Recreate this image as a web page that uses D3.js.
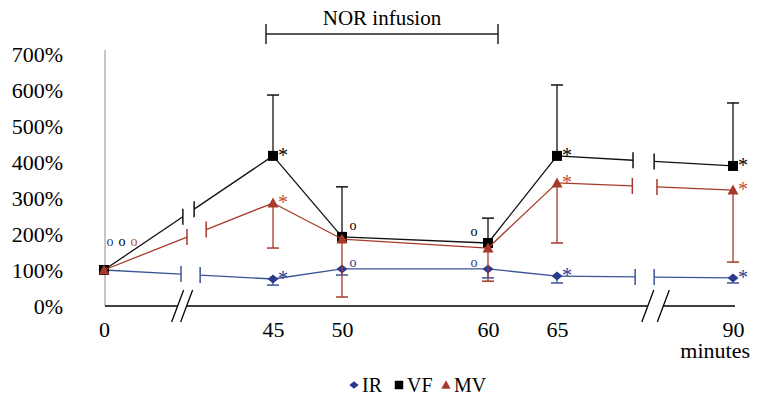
<!DOCTYPE html>
<html><head><meta charset="utf-8">
<script src="https://cdn.jsdelivr.net/npm/d3@7"></script>
<style>body{margin:0;background:#fff} svg{display:block} svg text{font-family:'Liberation Serif' !important}</style>
</head><body><svg id="c" width="760" height="404" font-family="Liberation Serif"></svg>
<script>
// ---- data ----
const minutes = [0, 45, 50, 60, 65, 90];
const xTickLabels = ["0", "45", "50", "60", "65", "90"];
const yTickValues = [0, 100, 200, 300, 400, 500, 600, 700];
const irMean   = [100, 75, 103, 103, 83, 78];
const irErrLow = [100, 58, 86, 78, 64, 64];
const vfMean    = [100, 417, 192, 175, 417, 389];
const vfErrHigh = [100, 586, 331, 244, 614, 564];
const mvMean   = [100, 286, 186, 161, 342, 322];
const mvErrLow = [100, 161, 25, 69, 175, 122];
const seriesNames = ["IR", "VF", "MV"];
const starMinutes = [45, 65, 90];
const circleMinutes = [50, 60];
const infusionRange = [45, 60];
// line breaks (in minutes) per series: [left gap, right gap]
const irGaps = [[20.5, 25.6], [76.1, 78.8]];
const vfGaps = [[21.0, 24.0], [75.8, 78.8]];
const mvGaps = [[22.1, 27.2], [75.7, 79.2]];
const axisGaps = [[19.6, 22.0], [77.9, 80.1]];

const FONT = "Liberation Serif";

// ---- setup ----
const svg = d3.select("#c");
const x = d3.scaleLinear().domain(minutes).range([104, 273, 342, 488, 557, 733]);
const y = d3.scaleLinear().domain([0, 700]).range([306, 54]);

const colors = {IR: "#2c3a8e", VF: "#000000", MV: "#a63a2a"};
const lineColors = {IR: "#3a5596", VF: "#111111", MV: "#a63a2a"};

function txt(sel, size) {
  return sel.attr("font-family", FONT).attr("font-size", size)
    .style("font-family", "'Liberation Serif'").style("font-size", size + "px");
}

// y axis line
svg.append("line").attr("x1", 105).attr("x2", 105).attr("y1", 50).attr("y2", y(0))
  .attr("stroke", "#a0a0a0").attr("stroke-width", 1.2);

// y axis labels
const gy = svg.append("g").attr("transform", "translate(105,0)")
  .call(d3.axisLeft(y).tickValues(yTickValues).tickFormat(d => d + "%").tickSize(0).tickPadding(42));
gy.select(".domain").remove();
gy.attr("font-family", FONT).attr("font-size", 22);
txt(gy.selectAll("text"), 22).attr("fill", "#000").attr("dy", "0.36em");

// x axis labels
const gx = svg.append("g").attr("transform", `translate(0,${y(0)})`)
  .call(d3.axisBottom(x).tickValues(minutes).tickFormat((d, i) => xTickLabels[i]).tickSize(0).tickPadding(15));
gx.select(".domain").remove();
gx.attr("font-family", FONT).attr("font-size", 22);
txt(gx.selectAll("text"), 22).attr("fill", "#000");

txt(svg.append("text").attr("x", 750).attr("y", 358).attr("text-anchor", "end"), 22).text("minutes");

// x axis line with breaks
const ax0 = 105, ax1 = 735, ay = y(0);
const axSegs = [[ax0, x(axisGaps[0][0])], [x(axisGaps[0][1]), x(axisGaps[1][0])], [x(axisGaps[1][1]), ax1]];
axSegs.forEach(s => svg.append("line").attr("x1", s[0]).attr("x2", s[1]).attr("y1", ay).attr("y2", ay)
  .attr("stroke", "#000").attr("stroke-width", 1.3));
axisGaps.forEach(g => g.forEach(m => {
  const cx = x(m);
  svg.append("line").attr("x1", cx - 6).attr("y1", ay + 16).attr("x2", cx + 6).attr("y2", ay - 16)
    .attr("stroke", "#000").attr("stroke-width", 1.3);
}));

// NOR infusion bracket
const bx0 = x(infusionRange[0]) - 7, bx1 = x(infusionRange[1]) + 10;
svg.append("line").attr("x1", bx0).attr("x2", bx1).attr("y1", 34).attr("y2", 34).attr("stroke", "#222").attr("stroke-width", 1.5);
[bx0, bx1].forEach(bx => svg.append("line").attr("x1", bx).attr("x2", bx).attr("y1", 24).attr("y2", 44).attr("stroke", "#222").attr("stroke-width", 1.5));
txt(svg.append("text").attr("x", (bx0 + bx1) / 2).attr("y", 25).attr("text-anchor", "middle"), 21).text("NOR infusion");

// ---- series ----
const series = [
  {name: "IR", mean: irMean, err: irErrLow, gaps: irGaps},
  {name: "VF", mean: vfMean, err: vfErrHigh, gaps: vfGaps},
  {name: "MV", mean: mvMean, err: mvErrLow, gaps: mvGaps}
];

function marker(name, cx, cy, s) {
  if (name === "IR") return `M${cx - 5.5 * s},${cy}L${cx},${cy - 4.5 * s}L${cx + 5.5 * s},${cy}L${cx},${cy + 4.5 * s}Z`;
  if (name === "VF") return `M${cx - 5 * s},${cy - 5 * s}h${10 * s}v${10 * s}h${-10 * s}Z`;
  return `M${cx},${cy - 5.5 * s}L${cx + 5.5 * s},${cy + 4.5 * s}L${cx - 5.5 * s},${cy + 4.5 * s}Z`;
}

series.forEach(s => {
  const g = svg.append("g");
  const col = colors[s.name], lc = lineColors[s.name];
  // error bars
  minutes.forEach((m, i) => {
    if (s.err[i] === s.mean[i]) return;
    g.append("line").attr("x1", x(m)).attr("x2", x(m)).attr("y1", y(s.mean[i])).attr("y2", y(s.err[i]))
      .attr("stroke", lc).attr("stroke-width", 1.3);
    g.append("line").attr("x1", x(m) - 6).attr("x2", x(m) + 6).attr("y1", y(s.err[i])).attr("y2", y(s.err[i]))
      .attr("stroke", lc).attr("stroke-width", 1.5);
  });
  // connecting lines
  for (let i = 0; i < minutes.length - 1; i++) {
    const m0 = minutes[i], m1 = minutes[i + 1];
    const interp = m => s.mean[i] + (s.mean[i + 1] - s.mean[i]) * (m - m0) / (m1 - m0);
    const gap = s.gaps.find(gg => gg[0] > m0 && gg[1] < m1);
    if (gap) {
      const pieces = [[m0, gap[0]], [gap[1], m1]];
      pieces.forEach(p => g.append("line").attr("x1", x(p[0])).attr("y1", y(interp(p[0])))
        .attr("x2", x(p[1])).attr("y2", y(interp(p[1]))).attr("stroke", lc).attr("stroke-width", 1.3));
      gap.forEach(gm => g.append("line").attr("x1", x(gm)).attr("x2", x(gm))
        .attr("y1", y(interp(gm)) - 8).attr("y2", y(interp(gm)) + 8).attr("stroke", lc).attr("stroke-width", 1.5));
    } else {
      g.append("line").attr("x1", x(m0)).attr("y1", y(s.mean[i])).attr("x2", x(m1)).attr("y2", y(s.mean[i + 1]))
        .attr("stroke", lc).attr("stroke-width", 1.3);
    }
  }
  // markers
  minutes.forEach((m, i) => g.append("path").attr("d", marker(s.name, x(m), y(s.mean[i]), 1)).attr("fill", col));
  // stars
  starMinutes.forEach(m => {
    const i = minutes.indexOf(m);
    txt(g.append("text").attr("x", x(m) + 10).attr("y", y(s.mean[i]) + 6).attr("text-anchor", "middle"), 20)
      .attr("fill", s.name === "MV" ? "#c0503a" : col).text("*");
  });
});

// "o" annotations
const circleSeries = [{name: "VF", mean: vfMean, dy: -10}, {name: "IR", mean: irMean, dy: -5}];
circleSeries.forEach(cs => circleMinutes.forEach((m, k) => {
  const i = minutes.indexOf(m);
  txt(svg.append("text").attr("x", x(m) + (k === 0 ? 11 : -14)).attr("y", y(cs.mean[i]) + cs.dy + 3)
    .attr("text-anchor", "middle"), 14).attr("fill", colors[cs.name]).text("o");
}));
["IR", "VF", "MV"].forEach((n, k) => {
  txt(svg.append("text").attr("x", x(0) + 6 + k * 12).attr("y", 246).attr("text-anchor", "middle"), 14)
    .attr("fill", n === "MV" ? "#b0502e" : colors[n]).text("o");
});

// ---- legend ----
const legendX = [354, 399, 446];
seriesNames.forEach((n, k) => {
  const lx = legendX[k], ly = 385;
  svg.append("path").attr("d", marker(n, lx, ly, 0.85)).attr("fill", colors[n]);
  txt(svg.append("text").attr("x", lx + 8).attr("y", ly + 7), 20).text(n);
});
</script></body></html>
